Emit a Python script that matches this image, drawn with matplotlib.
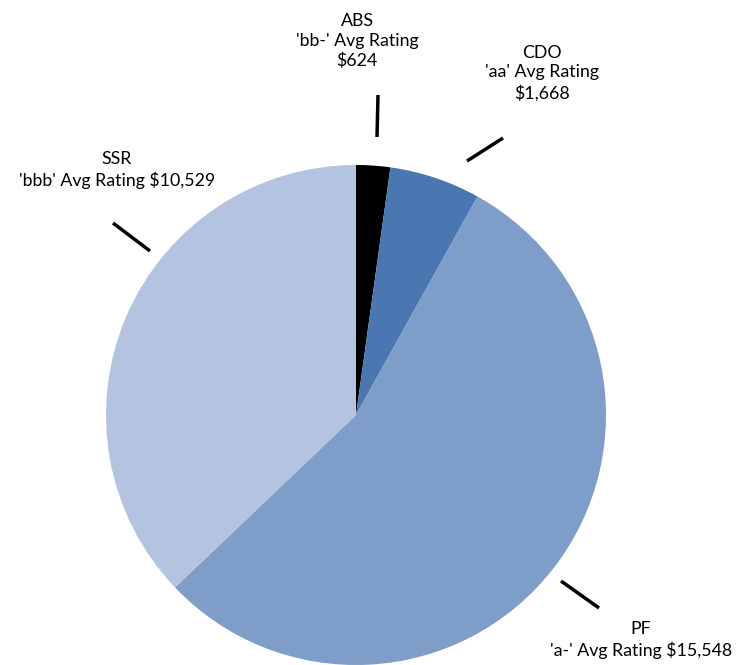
import matplotlib
matplotlib.use('Agg')
from matplotlib import pyplot as plt

# segment data
sectors = ['ABS', 'CDO', 'PF', 'SSR']
ratings = ["'bb-'", "'aa'", "'a-'", "'bbb'"]
amounts = [624, 1668, 15548, 10529]
colors = ['#000000', '#4A77B1', '#7F9DC9', '#B4C3DF']

W, H = 740, 665
fig = plt.figure(figsize=(W / 100, H / 100), dpi=100)
ax = fig.add_axes([0, 0, 1, 1])

# pie in pixel coords (y up)
cx, cy, r = 356, H - 415, 250
ax.pie(amounts, colors=colors, startangle=90, counterclock=False,
       center=(cx, cy), radius=r, wedgeprops=dict(linewidth=0))
ax.set_xlim(0, W)
ax.set_ylim(0, H)
ax.set_aspect('equal')
ax.axis('off')

# label text
def money(v):
    return '${:,}'.format(v)

labels = [
    '%s\n%s Avg Rating\n%s' % (sectors[0], ratings[0], money(amounts[0])),
    '%s\n%s Avg Rating\n%s' % (sectors[1], ratings[1], money(amounts[1])),
    '%s\n%s Avg Rating %s' % (sectors[2], ratings[2], money(amounts[2])),
    '%s\n%s Avg Rating %s' % (sectors[3], ratings[3], money(amounts[3])),
]
# label centers and leader lines (pixels, y from top)
label_pos = [(357, 41), (542, 73), (641, 640), (117, 170)]
leaders = [((378, 95), (377, 137)),
           ((467, 161), (503, 138)),
           ((561, 581), (599, 608)),
           ((113, 223), (150, 251))]

for txt, (lx, ly), ((x0, y0), (x1, y1)) in zip(labels, label_pos, leaders):
    ax.text(lx, H - ly, txt, ha='center', va='center', fontsize=12.8,
            family='Lato', linespacing=1.3, color='#000000')
    ax.plot([x0, x1], [H - y0, H - y1], color='black', lw=2.5,
            solid_capstyle='butt')

fig.savefig('out.png', dpi=100)
